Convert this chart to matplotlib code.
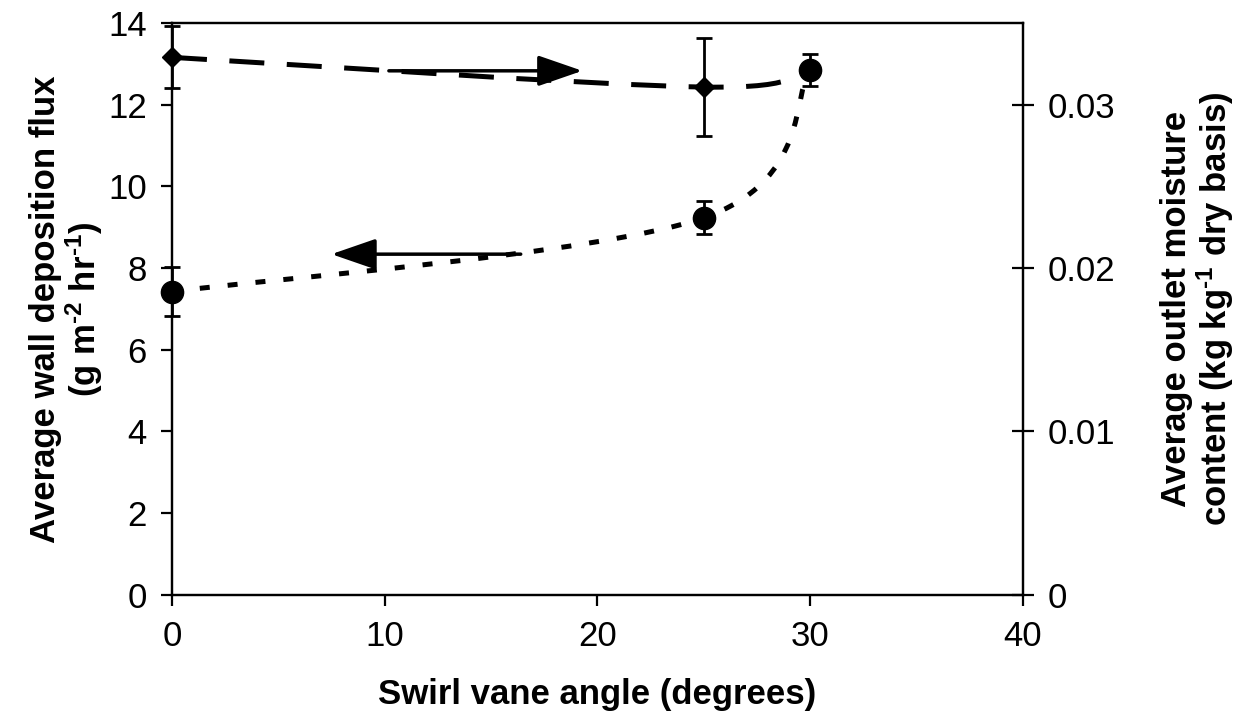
import matplotlib
matplotlib.use("Agg")
import matplotlib.pyplot as plt
from matplotlib.path import Path
from matplotlib.patches import PathPatch
import numpy as np

# ---- data ----
angle = [0, 25, 30]
flux = [7.42, 9.23, 12.85]          # left axis, g m-2 hr-1
flux_err = [0.6, 0.4, 0.4]
moisture = [0.0329, 0.03108, 0.0323]  # right axis, kg/kg dry basis
moisture_err = [0.0019, 0.0030, 0.0004]

x_ticks = [0, 10, 20, 30, 40]
left_ticks = [0, 2, 4, 6, 8, 10, 12, 14]
right_ticks = [0, 0.01, 0.02, 0.03]
right_ticklabels = ["0", "0.01", "0.02", "0.03"]

plt.rcParams['font.family'] = ['Liberation Sans', 'DejaVu Sans']
plt.rcParams['mathtext.fontset'] = 'custom'
plt.rcParams['mathtext.rm'] = 'Liberation Sans:bold'
plt.rcParams['mathtext.it'] = 'Liberation Sans:bold'
plt.rcParams['mathtext.bf'] = 'Liberation Sans:bold'
plt.rcParams['mathtext.default'] = 'regular'

fig = plt.figure(figsize=(12.49, 7.20), dpi=100)
ax = fig.add_axes([0.1377, 0.174, 0.681, 0.794])
ax2 = ax.twinx()


def smooth_path(xs, ys):
    """Excel-style smoothed line: cubic Bezier segments through points."""
    pts = np.column_stack([xs, ys]).astype(float)
    n = len(pts)
    verts = [pts[0]]
    codes = [Path.MOVETO]
    for i in range(n - 1):
        p0 = pts[i - 1] if i > 0 else pts[i]
        p1 = pts[i]
        p2 = pts[i + 1]
        p3 = pts[i + 2] if i + 2 < n else pts[i + 1]
        c1 = p1 + (p2 - p0) / 6.0
        c2 = p2 - (p3 - p1) / 6.0
        verts += [c1, c2, p2]
        codes += [Path.CURVE4] * 3
    return Path(verts, codes)


# right axis series (dashed, diamonds)
ax2.add_patch(PathPatch(smooth_path(angle, moisture), fill=False, color='black',
                        lw=3.6, linestyle=(0, (7, 4.5)), capstyle='butt'))
ax2.errorbar(angle[:2], moisture[:2], yerr=moisture_err[:2], fmt='D', color='black',
             ms=10, capsize=6, elinewidth=2, capthick=2, clip_on=False)

# left axis series (dotted, circles)
ax.add_patch(PathPatch(smooth_path(angle, flux), fill=False, color='black',
                       lw=3.6, linestyle=(0, (2.0, 3.6)), capstyle='butt'))
ax.errorbar(angle, flux, yerr=flux_err, fmt='o', color='black',
            ms=16, capsize=6, elinewidth=2, capthick=2, clip_on=False)

ax.set_zorder(ax2.get_zorder() + 1)
ax.patch.set_visible(False)

# arrows
arrow_style = dict(arrowstyle='-|>,head_length=1.1,head_width=0.38',
                   mutation_scale=25, color='black', lw=2.5,
                   shrinkA=0, shrinkB=0)
ax.annotate('', xy=(19.3, 12.83), xytext=(10.2, 12.83), arrowprops=arrow_style)
ax.annotate('', xy=(7.5, 8.34), xytext=(16.4, 8.34), arrowprops=arrow_style)

ax.set_xlim(0, 40)
ax.set_ylim(0, 14)
ax2.set_ylim(0, 0.035)
ax.set_xticks(x_ticks)
ax.set_yticks(left_ticks)
ax2.set_yticks(right_ticks)
ax2.set_yticklabels(right_ticklabels)

for a in (ax, ax2):
    for s in a.spines.values():
        s.set_linewidth(1.6)
ax.tick_params(axis='both', direction='out', length=8, width=1.6,
               labelsize=25, pad=10)
ax2.tick_params(axis='y', direction='inout', length=16, width=1.6,
                labelsize=25, pad=10)

ax.set_xlabel('Swirl vane angle (degrees)', fontsize=25, fontweight='bold',
              labelpad=18)
ax.set_ylabel('Average wall deposition flux\n(g m$^{\\text{-2}}$ hr$^{\\text{-1}}$)',
              fontsize=25, fontweight='bold', labelpad=2, linespacing=1.05)
ax2.set_ylabel('Average outlet moisture\ncontent (kg kg$^{\\text{-1}}$ dry basis)',
               fontsize=25, fontweight='bold', rotation=90, labelpad=32,
               linespacing=1.05)

fig.savefig('out.png', dpi=100)
